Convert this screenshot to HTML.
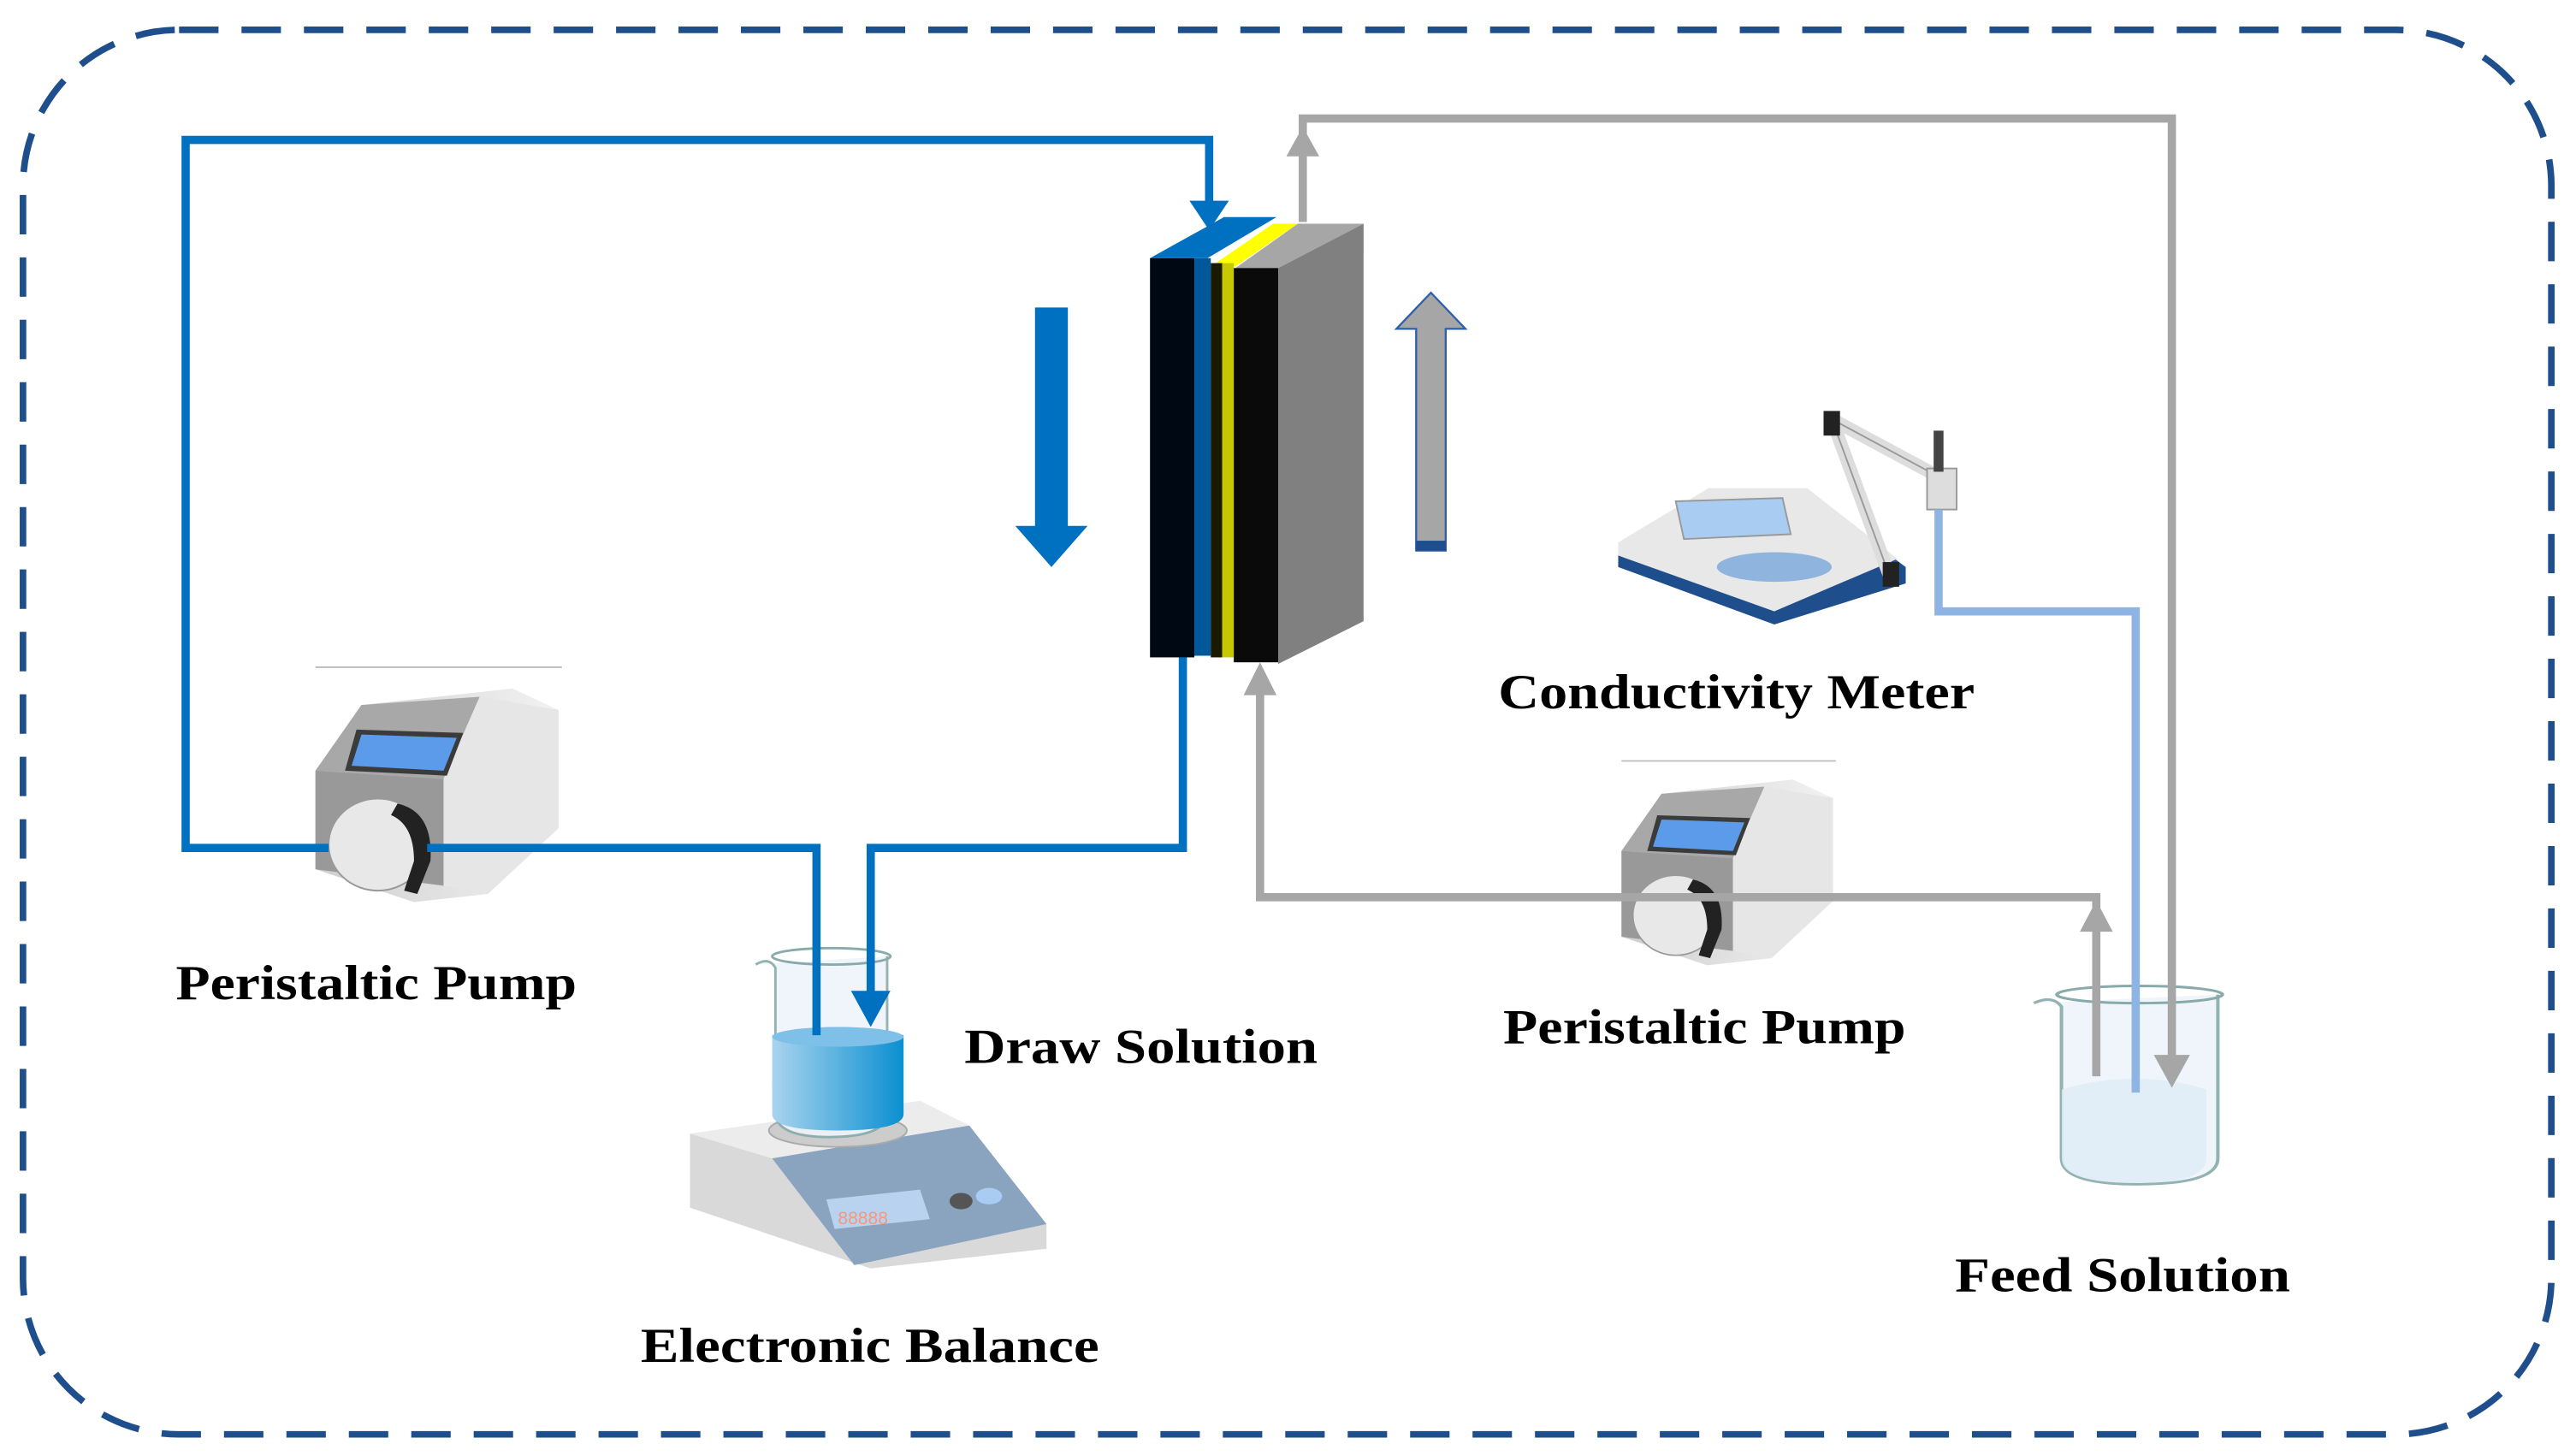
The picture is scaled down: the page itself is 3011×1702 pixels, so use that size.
<!DOCTYPE html>
<html><head><meta charset="utf-8"><style>
html,body{margin:0;padding:0;background:#fff;}
svg{display:block;}
text{font-family:"Liberation Serif",serif;font-weight:bold;fill:#000;font-size:30px;}
</style></head><body>
<svg width="3011" height="1702" viewBox="0 0 1568 886" xmlns="http://www.w3.org/2000/svg">
<defs>
<linearGradient id="water" x1="0" x2="1"><stop offset="0" stop-color="#a9d4ef"/><stop offset="1" stop-color="#0b8fd0"/></linearGradient>
<linearGradient id="pumpside" x1="0" x2="1"><stop offset="0" stop-color="#cfcfcf"/><stop offset="1" stop-color="#f2f2f2"/></linearGradient>
<g id="pump">
 <line x1="0" y1="-8" x2="150" y2="-8" stroke="#bbb" stroke-width="1"/>
 <polygon points="28,15 120,5 148,18 148,90 105,130 60,135 0,115 0,55" fill="url(#pumpside)"/>
 <polygon points="0,55 28,15 100,10 78,60" fill="#a8a8a8"/>
 <polygon points="0,55 78,60 78,125 0,115" fill="#999"/>
 <polygon points="78,60 100,10 148,18 148,90 105,130 78,125" fill="#e6e6e6"/>
 <polygon points="25,30 90,32 80,58 18,55" fill="#3b3b3b"/>
 <polygon points="28,33 86,35 78,55 22,52" fill="#5b9bea"/>
 <ellipse cx="38" cy="100" rx="30" ry="28" fill="#e8e8e8" stroke="#999"/>
 <path d="M50,75 Q72,80 70,110 L62,130 L54,128 L60,110 Q60,88 46,82Z" fill="#222"/>
</g>
<g id="beaker">
 <path d="M0,10 Q8,5 12,12 L12,100 Q12,115 45,115 Q80,115 80,100 L80,5" fill="#eef4fa" stroke="#8aa" stroke-width="1.5" opacity="0.9"/>
 <ellipse cx="46" cy="5" rx="36" ry="5" fill="none" stroke="#8aa" stroke-width="1.5"/>
</g>
</defs>

<rect x="14" y="18" width="1539" height="855" rx="95" ry="95" fill="none" stroke="#1f4e8c" stroke-width="4" stroke-dasharray="24,14"/>

<!-- Balance -->
<polygon points="420,690 560,670 590,685 637,745 637,760 530,772 420,735" fill="#d9d9d9"/>
<polygon points="420,690 560,670 590,685 470,705" fill="#ececec"/>
<polygon points="470,705 590,685 637,745 520,770" fill="#8aa3bf"/>
<polygon points="503,730 560,724 566,742 508,748" fill="#b9d2f0"/>
<text x="510" y="745" style="font-size:11px;fill:#f49a7a;font-family:'Liberation Sans',sans-serif;font-weight:normal">88888</text>
<ellipse cx="585" cy="731" rx="7" ry="5" fill="#555"/><ellipse cx="602" cy="728" rx="8" ry="5" fill="#a9cdf2"/>
<ellipse cx="510" cy="688" rx="42" ry="10" fill="#ccc" stroke="#aaa"/>
<!-- draw beaker -->
<g transform="translate(460,577)"><use href="#beaker"/></g>
<path d="M470,630 Q510,620 550,630 L550,678 Q550,688 510,688 Q470,688 470,678Z" fill="url(#water)"/>
<ellipse cx="510" cy="631" rx="40" ry="6" fill="#7fc0e8"/>

<!-- feed beaker -->
<g transform="translate(1238,600) scale(1.4,1.05)"><use href="#beaker"/></g>
<path d="M1255,663 Q1300,650 1343,663 L1343,705 Q1343,720 1300,720 Q1255,720 1255,705Z" fill="#dfecf6" opacity="0.8"/>

<!-- pumps -->
<g transform="translate(192,414)"><use href="#pump"/></g>
<g transform="translate(987,470) scale(0.87)"><use href="#pump"/></g>

<!-- conductivity meter -->
<polygon points="985,335 1040,300 1100,300 1160,345 1160,355 1080,380 985,345" fill="#1f4e8c"/>
<polygon points="985,330 1040,297 1100,297 1155,340 1080,372 985,338" fill="#e8e8e8"/>
<polygon points="1020,305 1085,303 1090,325 1025,328" fill="#a9cdf2" stroke="#999"/>
<ellipse cx="1080" cy="345" rx="35" ry="9" fill="#8fb5df"/>
<path d="M1115,255 L1180,290 M1115,255 L1150,350" stroke="#ddd" stroke-width="8" fill="none"/>
<path d="M1115,255 L1180,290 M1115,255 L1150,350" stroke="#999" stroke-width="1" fill="none"/>
<rect x="1110" y="250" width="10" height="15" fill="#222"/><rect x="1146" y="342" width="10" height="15" fill="#222"/>
<rect x="1173" y="285" width="18" height="25" fill="#ddd" stroke="#999"/>
<rect x="1177" y="262" width="6" height="25" fill="#444"/>

<!-- lines: blue -->
<g fill="none" stroke="#0070c0" stroke-width="5">
 <polyline points="200,516 113,516 113,85 736,85 736,125"/>
 <polyline points="260,516 497,516 497,630"/>
 <polyline points="720,400 720,516 530,516 530,605"/>
</g>
<polygon points="724,122 748,122 736,140" fill="#0070c0"/>
<polygon points="518,603 542,603 530,625" fill="#0070c0"/>

<!-- gray lines -->
<g fill="none" stroke="#a6a6a6" stroke-width="5">
 <polyline points="793,135 793,72 1322,72 1322,650"/>
 <polyline points="767,420 767,546 1276,546 1276,655"/>
</g>
<polygon points="783,95 803,95 793,77" fill="#a6a6a6"/>
<polygon points="1311,642 1333,642 1322,662" fill="#a6a6a6"/>
<polygon points="757,423 777,423 767,403" fill="#a6a6a6"/>
<polygon points="1266,567 1286,567 1276,548" fill="#a6a6a6"/>
<polyline points="1180,310 1180,372 1300,372 1300,665" fill="none" stroke="#8db4e2" stroke-width="5"/>

<!-- module -->
<polygon points="700,157 745,132 777,132 735,157" fill="#0070c0"/>
<polygon points="740,160 775,136 790,136 752,162" fill="#ffff00"/>
<polygon points="752,163 790,136 830,136 778,163" fill="#a6a6a6"/>
<polygon points="778,163 830,136 830,378 778,404" fill="#808080"/>
<rect x="700" y="157" width="27" height="243" fill="#000814"/>
<rect x="727" y="157" width="10" height="242" fill="#005799"/>
<rect x="737" y="160" width="7" height="240" fill="#1a1a00"/>
<rect x="744" y="160" width="7" height="240" fill="#c8c800"/>
<rect x="751" y="163" width="27" height="240" fill="#0a0a0a"/>

<!-- down blue arrow -->
<rect x="630" y="187" width="20" height="135" fill="#0070c0"/>
<polygon points="618,320 662,320 640,345" fill="#0070c0"/>
<!-- up gray arrow -->
<polygon points="862,335 862,200 850,200 871,178 892,200 880,200 880,335" fill="#a6a6a6" stroke="#2e5fa8" stroke-width="1.2"/>
<rect x="862" y="329" width="18" height="6" fill="#1f4e8c"/>

<!-- labels -->
<text x="107" y="608" textLength="244" lengthAdjust="spacingAndGlyphs">Peristaltic Pump</text>
<text x="587" y="647" textLength="215" lengthAdjust="spacingAndGlyphs">Draw Solution</text>
<text x="390" y="829" textLength="279" lengthAdjust="spacingAndGlyphs">Electronic Balance</text>
<text x="912" y="431" textLength="290" lengthAdjust="spacingAndGlyphs">Conductivity Meter</text>
<text x="915" y="635" textLength="245" lengthAdjust="spacingAndGlyphs">Peristaltic Pump</text>
<text x="1190" y="786" textLength="204" lengthAdjust="spacingAndGlyphs">Feed Solution</text>
</svg>
</body></html>
